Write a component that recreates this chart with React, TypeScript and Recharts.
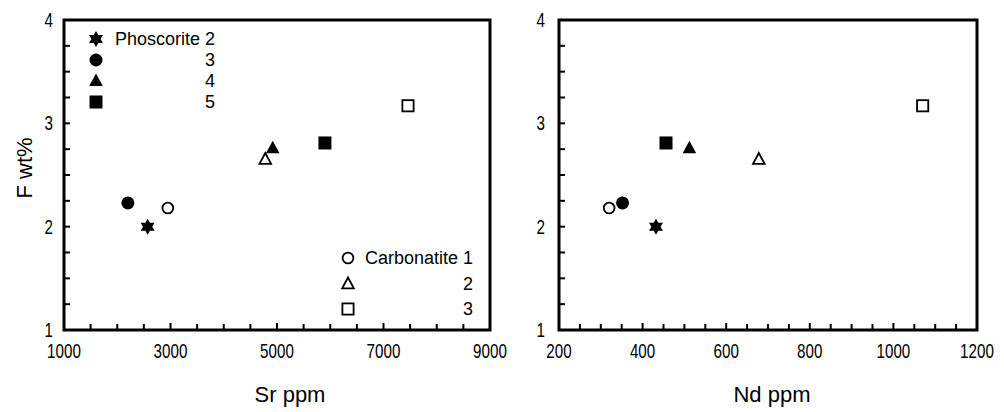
import React from 'react';
import { ScatterChart, Scatter, XAxis, YAxis, ReferenceArea, Legend, Label } from 'recharts';

// samples, same order in every array
const sampleNames = ['Phoscorite 2', 'Phoscorite 3', 'Phoscorite 4', 'Phoscorite 5', 'Carbonatite 1', 'Carbonatite 2', 'Carbonatite 3'];
const fWtPct = [2.0, 2.23, 2.76, 2.81, 2.18, 2.65, 3.17];
const srPpm = [2570, 2200, 4920, 5900, 2950, 4780, 7460];
const ndPpm = [432, 352, 512, 456, 320, 678, 1070];

// axis ticks
const srTicks = [1000, 1500, 2000, 2500, 3000, 3500, 4000, 4500, 5000, 5500, 6000, 6500, 7000, 7500, 8000, 8500, 9000];
const srLabels = [1000, 3000, 5000, 7000, 9000];
const ndTicks = [200, 250, 300, 350, 400, 450, 500, 550, 600, 650, 700, 750, 800, 850, 900, 950, 1000, 1050, 1100, 1150, 1200];
const ndLabels = [200, 400, 600, 800, 1000, 1200];
const fTicks = [1, 1.25, 1.5, 1.75, 2, 2.25, 2.5, 2.75, 3, 3.25, 3.5, 3.75, 4];
const fLabels = [1, 2, 3, 4];

// legend text
const phosLegend = ['Phoscorite 2', '3', '4', '5'];
const carbLegend = ['Carbonatite 1', '2', '3'];

const MARKERS = ['star', 'disc', 'tri', 'box', 'ring', 'openTri', 'openBox'];
const TICK_FONT = '"Liberation Sans", Arial, Helvetica, sans-serif';
const TITLE_FONT = '"Liberation Sans", Arial, Helvetica, sans-serif';
const NARROW = 0.76; // horizontal squeeze for the condensed tick numbers

const Marker = ({ kind, cx, cy }: { kind: string; cx: number; cy: number }) => {
  switch (kind) {
    case 'star': {
      const pts: string[] = [];
      for (let i = 0; i < 12; i++) {
        const r = i % 2 === 0 ? 8 : 4.6;
        const a = ((-90 + i * 30) * Math.PI) / 180;
        pts.push(`${cx + r * Math.cos(a)},${cy + r * Math.sin(a)}`);
      }
      return <polygon points={pts.join(' ')} fill="#000" />;
    }
    case 'disc':
      return <circle cx={cx} cy={cy} r={6.5} fill="#000" />;
    case 'ring':
      return <circle cx={cx} cy={cy} r={5.4} fill="#fff" stroke="#000" strokeWidth={1.8} />;
    case 'tri':
      return <polygon points={`${cx},${cy - 7.5} ${cx - 6.8},${cy + 5} ${cx + 6.8},${cy + 5}`} fill="#000" />;
    case 'openTri':
      return (
        <polygon
          points={`${cx},${cy - 6.5} ${cx - 5.8},${cy + 4.3} ${cx + 5.8},${cy + 4.3}`}
          fill="#fff"
          stroke="#000"
          strokeWidth={1.8}
        />
      );
    case 'box':
      return <rect x={cx - 6.5} y={cy - 6.5} width={13} height={13} fill="#000" />;
    case 'openBox':
      return <rect x={cx - 5.6} y={cy - 5.6} width={11.2} height={11.2} fill="#fff" stroke="#000" strokeWidth={1.8} />;
    default:
      return null;
  }
};

const TickText = ({ x, y, anchor, value }: any) => (
  <text
    transform={`translate(${x},${y}) scale(${NARROW},1)`}
    x={0}
    y={0}
    textAnchor={anchor}
    fontFamily={TICK_FONT}
    fontSize={20}
    fill="#000"
  >
    {value}
  </text>
);

const makeXTick = (labels: number[]) => (props: any) => {
  const { x, y, payload } = props;
  const major = labels.includes(payload.value);
  return (
    <g>
      <line x1={x} y1={y} x2={x} y2={y - (major ? 7 : 6)} stroke="#000" strokeWidth={2} />
      {major && <TickText x={x} y={y + 28} anchor="middle" value={payload.value} />}
    </g>
  );
};

const makeYTick = (gap: number) => (props: any) => {
  const { x, y, payload } = props;
  const major = fLabels.includes(payload.value);
  return (
    <g>
      <line x1={x} y1={y} x2={x + 6} y2={y} stroke="#000" strokeWidth={2} />
      {major && <TickText x={x - gap} y={y + 7} anchor="end" value={payload.value} />}
    </g>
  );
};

const xTitle = (text: string, dx: number) => (props: any) => {
  const vb = props.viewBox;
  return (
    <text x={vb.x + vb.width / 2 + dx} y={vb.y + vb.height - 10} textAnchor="middle" fontFamily={TITLE_FONT} fontSize={22} fill="#000">
      {text}
    </text>
  );
};

const yTitle = (text: string) => (props: any) => {
  const vb = props.viewBox;
  const x = vb.x + 24;
  const y = vb.y + vb.height / 2 - 7;
  return (
    <text x={x} y={y} transform={`rotate(-90 ${x} ${y})`} textAnchor="middle" dominantBaseline="central" fontFamily={TITLE_FONT} fontSize={22} fill="#000">
      {text}
    </text>
  );
};

const LegendRow = ({ kind, label, mx, tl, tr, y }: any) => (
  <>
    <svg style={{ position: 'absolute', left: mx - 9, top: y - 9 }} width={18} height={18}>
      <Marker kind={kind} cx={9} cy={9} />
    </svg>
    <div style={{ position: 'absolute', left: tl, width: tr - tl, top: y - 11, lineHeight: '22px', textAlign: 'right', whiteSpace: 'nowrap' }}>
      {label}
    </div>
  </>
);

const LegendBlock = () => (
  <div style={{ position: 'relative', width: 520, height: 412, fontFamily: TITLE_FONT, fontSize: 18, color: '#000' }}>
    {phosLegend.map((label, i) => (
      <LegendRow key={`p-${i}`} kind={MARKERS[i]} label={label} mx={96} tl={110} tr={215} y={39 + i * 21} />
    ))}
    {carbLegend.map((label, i) => (
      <LegendRow key={`c-${i}`} kind={MARKERS[4 + i]} label={label} mx={348} tl={360} tr={473} y={258 + i * 25.5} />
    ))}
  </div>
);

const Panel = ({ xs, ticks, labels, domain, width, right, yWidth, yGap, title, titleDx, showYTitle, legend }: any) => (
  <ScatterChart width={width} height={412} margin={{ top: 20, right, bottom: 0, left: 0 }}>
    <XAxis
      type="number"
      dataKey="x"
      domain={domain}
      ticks={ticks}
      interval={0}
      height={82}
      axisLine={false}
      tickLine={false}
      tickSize={0}
      tickMargin={0}
      tick={makeXTick(labels)}
    >
      <Label content={xTitle(title, titleDx)} />
    </XAxis>
    <YAxis
      type="number"
      dataKey="y"
      domain={[1, 4]}
      ticks={fTicks}
      interval={0}
      width={yWidth}
      axisLine={false}
      tickLine={false}
      tickSize={0}
      tickMargin={0}
      tick={makeYTick(yGap)}
    >
      {showYTitle && <Label content={yTitle('F wt%')} />}
    </YAxis>
    <ReferenceArea x1={domain[0]} x2={domain[1]} y1={1} y2={4} fill="none" fillOpacity={0} stroke="#000" strokeWidth={3} />
    {sampleNames.map((name, i) => (
      <Scatter
        key={name}
        name={name}
        data={[{ x: xs[i], y: fWtPct[i] }]}
        isAnimationActive={false}
        shape={(p: any) => <Marker kind={MARKERS[i]} cx={p.cx} cy={p.cy} />}
      />
    ))}
    {legend && (
      <Legend
        layout="vertical"
        align="center"
        verticalAlign="middle"
        content={() => <LegendBlock />}
        wrapperStyle={{ left: 0, top: 0, width: 520, height: 412, pointerEvents: 'none' }}
      />
    )}
  </ScatterChart>
);

export default function App() {
  return (
    <div style={{ position: 'absolute', left: 0, top: 0, width: 1004, height: 412, background: '#fff' }}>
      <div style={{ position: 'absolute', left: 0, top: 0 }}>
        <Panel xs={srPpm} ticks={srTicks} labels={srLabels} domain={[1000, 9000]} width={520} right={30} yWidth={64} yGap={11} title="Sr ppm" titleDx={13} showYTitle legend />
      </div>
      <div style={{ position: 'absolute', left: 500, top: 0 }}>
        <Panel xs={ndPpm} ticks={ndTicks} labels={ndLabels} domain={[200, 1200]} width={504} right={27} yWidth={59} yGap={14} title="Nd ppm" titleDx={4} showYTitle={false} legend={false} />
      </div>
    </div>
  );
}
